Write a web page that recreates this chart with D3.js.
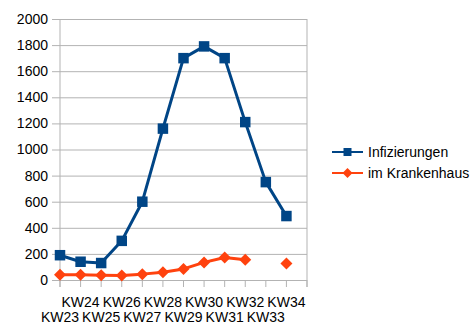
<!DOCTYPE html>
<html>
<head>
<meta charset="utf-8">
<script src="https://cdn.jsdelivr.net/npm/d3@7"></script>
<style>
  html, body { margin: 0; padding: 0; background: #fff; }
  svg { display: block; font-family: "Liberation Sans", Arial, sans-serif; }
</style>
</head>
<body>
<svg id="chart" width="474" height="334"></svg>
<script>
// Weekly counts per calendar week
const weeks = ["KW23","KW24","KW25","KW26","KW27","KW28","KW29","KW30","KW31","KW32","KW33","KW34"];
const infected = [190, 140, 130, 300, 600, 1160, 1700, 1790, 1700, 1210, 750, 490];
const hospital = [40, 40, 37, 35, 45, 60, 85, 135, 173, 155, null, 127];
const yTicks = [0, 200, 400, 600, 800, 1000, 1200, 1400, 1600, 1800, 2000];
const seriesNames = ["Infizierungen", "im Krankenhaus"];

const blue = "#004586", orange = "#ff420e", grid = "#b3b3b3";
const svg = d3.select("#chart");

const plotL = 60, plotR = 307, plotT = 19, plotB = 280;
const x = d3.scaleLinear().domain([0, weeks.length]).range([plotL, plotR]);
const y = d3.scaleLinear().domain([0, 2000]).range([plotB, plotT]);

// horizontal gridlines + y ticks
const yAxis = d3.axisLeft(y).tickValues(yTicks).tickFormat(d3.format("d"))
  .tickSize(-(plotR - plotL)).tickSizeOuter(0).tickPadding(12);
const gy = svg.append("g").attr("transform", `translate(${plotL},0)`).call(yAxis);
gy.select(".domain").remove();
gy.selectAll(".tick line").attr("stroke", grid).attr("x1", -8);
gy.selectAll(".tick text").attr("font-size", 14).attr("fill", "#000");

// frame: left axis and right edge
svg.append("line").attr("x1", plotL).attr("x2", plotL).attr("y1", plotT).attr("y2", plotB + 7).attr("stroke", grid);
svg.append("line").attr("x1", plotR).attr("x2", plotR).attr("y1", plotT).attr("y2", plotB + 7).attr("stroke", grid);

// x ticks at each week plus a closing tick
const xt = d3.range(weeks.length + 1);
svg.append("g").selectAll("line").data(xt).join("line")
  .attr("x1", d => x(d)).attr("x2", d => x(d))
  .attr("y1", plotB).attr("y2", plotB + 7).attr("stroke", grid);

// staggered x labels
svg.append("g").selectAll("text").data(weeks).join("text")
  .attr("x", (d, i) => x(i))
  .attr("y", (d, i) => i % 2 === 1 ? 307 : 322)
  .attr("text-anchor", "middle").attr("font-size", 14).attr("fill", "#000")
  .text(d => d);

const line = d3.line().defined(d => d[1] != null).x(d => x(d[0])).y(d => y(d[1]));

function series(values, color, shape) {
  const pts = values.map((v, i) => [i, v]);
  svg.append("path").datum(pts).attr("d", line)
    .attr("fill", "none").attr("stroke", color).attr("stroke-width", 3).attr("stroke-linejoin", "round");
  svg.append("g").selectAll("path").data(pts.filter(d => d[1] != null)).join("path")
    .attr("transform", d => `translate(${x(d[0])},${y(d[1])})`)
    .attr("d", shape).attr("fill", color);
}
const square = d3.symbol(d3.symbolSquare, 110)();
const diamond = "M0,-6L6,0L0,6L-6,0Z";
series(infected, blue, square);
series(hospital, orange, diamond);

// legend
const lg = svg.append("g");
const items = [[blue, d3.symbol(d3.symbolSquare, 64)()], [orange, "M0,-5L5,0L0,5L-5,0Z"]];
seriesNames.forEach((name, i) => {
  const ly = 152 + i * 21;
  lg.append("line").attr("x1", 332).attr("x2", 363).attr("y1", ly).attr("y2", ly)
    .attr("stroke", items[i][0]).attr("stroke-width", 2);
  lg.append("path").attr("transform", `translate(347.5,${ly})`)
    .attr("d", items[i][1]).attr("fill", items[i][0]);
  lg.append("text").attr("x", 368).attr("y", ly + 5).attr("font-size", 14).attr("fill", "#000").text(name);
});
</script>
</body>
</html>
